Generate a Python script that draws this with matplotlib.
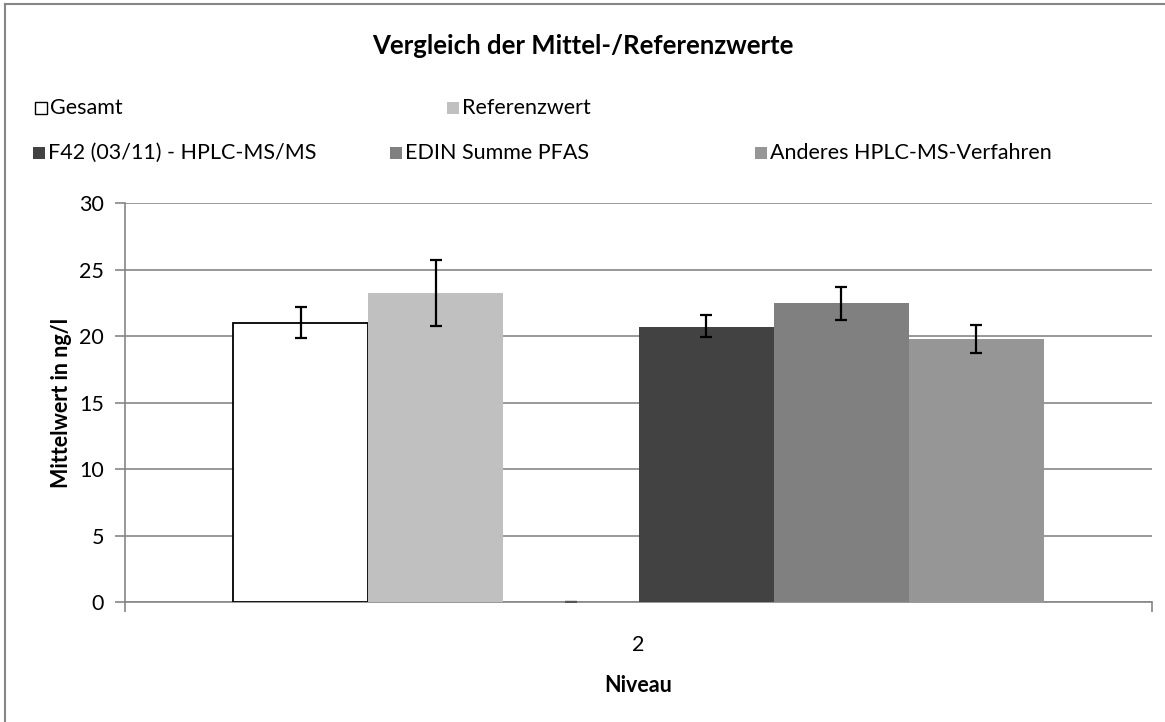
import matplotlib.pyplot as plt
import matplotlib as mpl
from matplotlib.patches import Rectangle
from matplotlib.lines import Line2D

plt.rcParams['font.family'] = ['Lato', 'DejaVu Sans']

# data
series = ['Gesamt', 'Referenzwert', '', 'F42 (03/11) - HPLC-MS/MS',
          'EDIN Summe PFAS', 'Anderes HPLC-MS-Verfahren']
means = [21.0, 23.2, 0.0, 20.7, 22.5, 19.8]
err_lo = [19.85, 20.75, 0.0, 19.95, 21.2, 18.75]
err_hi = [22.15, 25.75, 0.0, 21.55, 23.7, 20.8]
colors = ['white', '#c0c0c0', '#404040', '#424242', '#808080', '#969696']
edges = ['black', 'none', 'none', 'none', 'none', 'none']
category = '2'

gray = '#868686'
fs = 15.5

fig = plt.figure(figsize=(11.65, 7.22), dpi=100)
ax = fig.add_axes([125/1165, 1-602/722, 1027/1165, 399/722])

xs = [i + 0.5 for i in range(len(series))]
for i, x in enumerate(xs):
    if means[i] > 0:
        ax.bar(x, means[i], width=1.0, color=colors[i], edgecolor=edges[i],
               linewidth=1.3 if edges[i] != 'none' else 0, zorder=3)
    lo = means[i] - err_lo[i]
    hi = err_hi[i] - means[i]
    ax.errorbar(x, means[i], yerr=[[lo], [hi]], fmt='none',
                ecolor='black' if means[i] > 0 else '#555555',
                elinewidth=1.6, capsize=4.5, capthick=1.6, zorder=4)

ax.set_xlim(-0.8, 6.8)
ax.set_ylim(0, 30)
ax.set_yticks(range(0, 31, 5))
ax.yaxis.grid(True, color=gray, linewidth=1.2, zorder=0)
ax.set_axisbelow(True)

ax.set_xticks([3.0])
ax.set_xticklabels([category])
ax.set_xticks([-0.8, 6.8], minor=True)
ax.tick_params(axis='x', which='major', length=0, pad=24, labelsize=fs)
ax.tick_params(axis='x', which='minor', length=7, width=1.2, color=gray, direction='out')
ax.tick_params(axis='y', length=7, width=1.2, color=gray, labelsize=fs, pad=8)

for s in ['top', 'right']:
    ax.spines[s].set_visible(False)
for s in ['left', 'bottom']:
    ax.spines[s].set_color(gray)
    ax.spines[s].set_linewidth(1.2)

ax.set_ylabel('Mittelwert in ng/l', fontsize=fs, fontweight='bold', labelpad=5)
ax.set_xlabel('Niveau', fontsize=fs, fontweight='bold', labelpad=14)

fig.text(583/1165, 1-46/722, 'Vergleich der Mittel-/Referenzwerte',
         ha='center', va='center', fontsize=18.5, fontweight='bold')

# legend drawn manually in Excel layout
leg_pos = [(35, 108), (447, 108), None, (33, 153), (390, 153), (755, 153)]
for i, p in enumerate(leg_pos):
    if p is None:
        continue
    px, py = p
    fig.add_artist(Rectangle((px/1165, 1-(py+6)/722), 12/1165, 12/722,
                             transform=fig.transFigure,
                             facecolor=colors[i],
                             edgecolor='black' if edges[i] != 'none' else 'none',
                             linewidth=1.0))
    fig.text((px+15)/1165, 1-py/722, series[i], ha='left', va='center', fontsize=fs)

# chart border
fig.add_artist(Line2D([5/1165, 5/1165], [0, 1-4/722], transform=fig.transFigure,
                      color=gray, linewidth=1.5))
fig.add_artist(Line2D([5/1165, 1], [1-4/722, 1-4/722], transform=fig.transFigure,
                      color=gray, linewidth=1.5))

fig.savefig('out.png', dpi=100)
